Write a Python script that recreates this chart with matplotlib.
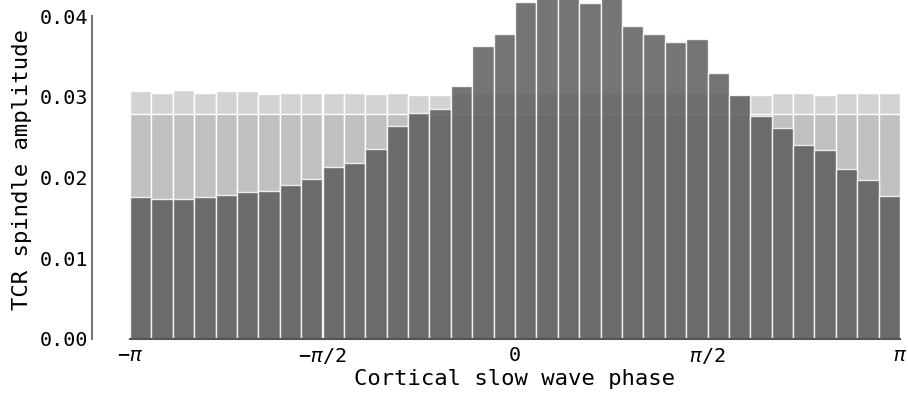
import numpy as np
import matplotlib
matplotlib.use("Agg")
import matplotlib.pyplot as plt

plt.rcParams['font.family'] = ['DejaVu Sans Mono']
plt.rcParams['mathtext.fontset'] = 'custom'
plt.rcParams['mathtext.rm'] = 'DejaVu Sans Mono'
plt.rcParams['mathtext.it'] = 'DejaVu Sans Mono:italic'

n_bins = 36
# light series (shuffled / baseline amplitude)
light_vals = [0.03067, 0.0305, 0.0308, 0.0305, 0.03067, 0.03067, 0.0303, 0.03046,
              0.03046, 0.03046, 0.0305, 0.03038, 0.0305, 0.03018, 0.03018, 0.0305,
              0.0305, 0.0305, 0.0305, 0.0305, 0.0305, 0.0305, 0.0305, 0.0305,
              0.0305, 0.0305, 0.0305, 0.0305, 0.0302, 0.03025, 0.03042, 0.03042,
              0.03018, 0.0305, 0.0305, 0.03042]
# second light series (flat baseline)
band_vals = [0.0279] * n_bins
# dark series (observed amplitude)
dark_vals = [0.01762, 0.0173, 0.01738, 0.01754, 0.01786, 0.01817, 0.01833, 0.0191,
             0.01977, 0.02134, 0.0218, 0.02349, 0.02638, 0.02795, 0.02848, 0.03133,
             0.03632, 0.03781, 0.0418, 0.0425, 0.0423, 0.04157, 0.0428, 0.03876,
             0.03781, 0.03678, 0.03715, 0.03294, 0.03018, 0.02762, 0.02609, 0.02402,
             0.0234, 0.02105, 0.01969, 0.01775]

edges = np.linspace(-np.pi, np.pi, n_bins + 1)
width = edges[1] - edges[0]
lefts = edges[:-1]

fig = plt.figure(figsize=(9.08, 3.94), dpi=100)
ax = fig.add_axes([130/908, 55/394, 770/908, 339/394])

ax.bar(lefts, light_vals, width=width, align='edge', color='#d3d3d3',
       edgecolor='white', linewidth=1.0)
ax.bar(lefts, band_vals, width=width, align='edge', color='#c0c0c0',
       edgecolor='white', linewidth=1.0)
ax.bar(lefts, dark_vals, width=width, align='edge', color='#5b5b5b', alpha=0.84,
       edgecolor='white', linewidth=1.0)

ax.set_xlim(-np.pi, np.pi)
ax.set_ylim(0, 0.042)

ax.spines['top'].set_visible(False)
ax.spines['right'].set_visible(False)
ax.spines['left'].set_position(('outward', 27.4))
ax.spines['left'].set_bounds(0, 0.04)
ax.spines['left'].set_color('#777777')
ax.spines['left'].set_linewidth(1.5)
ax.spines['bottom'].set_color('#555555')
ax.spines['bottom'].set_linewidth(1.5)

ax.set_yticks([0.0, 0.01, 0.02, 0.03, 0.04])
ax.set_yticklabels(['0.00', '0.01', '0.02', '0.03', '0.04'])
ax.set_xticks([-np.pi, -np.pi/2, 0, np.pi/2, np.pi])
ax.set_xticklabels([r'$-\pi$', r'$-\pi/2$', '0', r'$\pi/2$', r'$\pi$'])
ax.tick_params(axis='both', length=0, labelsize=14.5)
ax.tick_params(axis='y', pad=3)
ax.tick_params(axis='x', pad=5)

ax.set_xlabel('Cortical slow wave phase', fontsize=16, labelpad=2)
ax.set_ylabel('TCR spindle amplitude', fontsize=16, labelpad=5)

fig.savefig('out.png', dpi=100)
